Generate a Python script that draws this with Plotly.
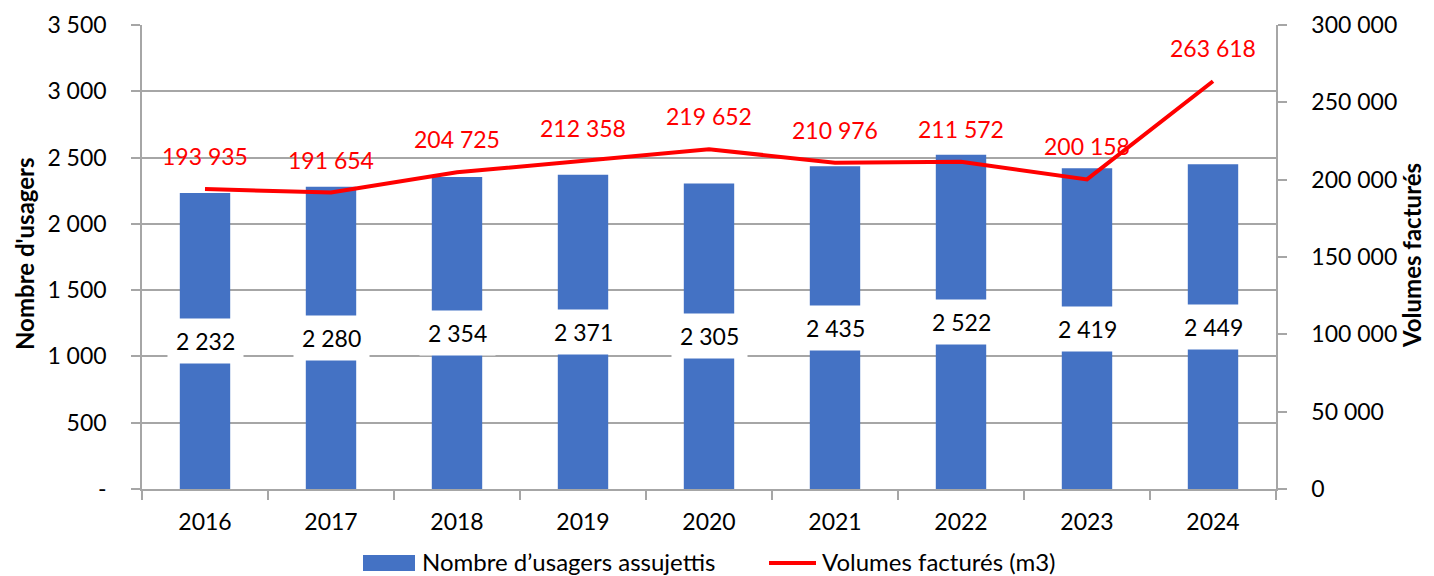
import plotly.graph_objects as go

years = ["2016", "2017", "2018", "2019", "2020", "2021", "2022", "2023", "2024"]
usagers = [2232, 2280, 2354, 2371, 2305, 2435, 2522, 2419, 2449]
volumes = [193935, 191654, 204725, 212358, 219652, 210976, 211572, 200158, 263618]

left_ticks = [0, 500, 1000, 1500, 2000, 2500, 3000, 3500]
left_ticktext = ["-", "500", "1 000", "1 500", "2 000", "2 500", "3 000", "3 500"]
right_ticks = [0, 50000, 100000, 150000, 200000, 250000, 300000]
right_ticktext = ["0", "50 000", "100 000", "150 000", "200 000", "250 000", "300 000"]

bar_name = "Nombre d\u2019usagers assujettis"
line_name = "Volumes factur\u00e9s (m3)"
left_title = "Nombre d'usagers"
right_title = "Volumes factur\u00e9s"

def fmt(v):
    return f"{v:,}".replace(",", " ")

FONT = "Lato, 'Open Sans', sans-serif"
FS = 23
GRID = "#A6A6A6"
BLUE = "#4472C4"
RED = "#FF0000"

# page body has an 8px margin: work in figure pixels (= screen - 8)
OFF = 8
W, H = 1434 - OFF, 576 - OFF
L, R, T, B = 142 - OFF, 1276 - OFF, 25 - OFF, 489 - OFF
def px(xs):
    return (xs - OFF - L) / (R - L)
def py(ys):
    return (B - (ys - OFF)) / (B - T)

fig = go.Figure()
fig.add_trace(go.Bar(
    x=years, y=usagers, name=bar_name,
    marker=dict(color=BLUE, line=dict(width=0)), width=0.4,
    yaxis="y", showlegend=False,
))
fig.add_trace(go.Scatter(
    x=years, y=volumes, name=line_name,
    mode="lines", line=dict(color=RED, width=4), yaxis="y2", showlegend=False,
))

annotations = []
for i, v in enumerate(usagers):
    annotations.append(dict(
        x=i, y=v / 2, xref="x", yref="y", text=fmt(v), showarrow=False,
        font=dict(family=FONT, size=FS, color="black"),
        bgcolor="white", borderpad=8,
    ))
for i, v in enumerate(volumes):
    annotations.append(dict(
        x=i, y=v, xref="x", yref="y2", text=fmt(v), showarrow=False,
        font=dict(family=FONT, size=FS, color=RED),
        yshift=33,
    ))

# axis titles
annotations.append(dict(x=px(24), y=py(254), xref="paper", yref="paper", textangle=-90,
                        text="<b>" + left_title + "</b>", showarrow=False,
                        xanchor="center", yanchor="middle",
                        font=dict(family=FONT, size=24, color="black")))
annotations.append(dict(x=px(1412), y=py(256), xref="paper", yref="paper", textangle=-90,
                        text="<b>" + right_title + "</b>", showarrow=False,
                        xanchor="center", yanchor="middle",
                        font=dict(family=FONT, size=24, color="black")))

# custom legend
annotations.append(dict(x=px(420), y=py(561), xref="paper", yref="paper", xanchor="left",
                        yanchor="middle", text=bar_name, showarrow=False,
                        font=dict(family=FONT, size=24, color="black")))
annotations.append(dict(x=px(820), y=py(561), xref="paper", yref="paper", xanchor="left",
                        yanchor="middle", text=line_name, showarrow=False,
                        font=dict(family=FONT, size=24, color="black")))
shapes = [
    dict(type="rect", xref="paper", yref="paper", x0=px(363), x1=px(415), y0=py(571), y1=py(555),
         fillcolor=BLUE, line=dict(width=0)),
    dict(type="line", xref="paper", yref="paper", x0=px(769), x1=px(816), y0=py(563), y1=py(563),
         line=dict(color=RED, width=4)),
]

fig.update_layout(
    width=W, height=H,
    margin=dict(l=L, r=W - R, t=T, b=H - B, autoexpand=False),
    paper_bgcolor="white", plot_bgcolor="white",
    font=dict(family=FONT, size=FS, color="black"),
    showlegend=False,
    xaxis=dict(
        type="category", range=[-0.5, len(years) - 0.5], showgrid=False,
        showline=True, linecolor=GRID, linewidth=1.5,
        ticks="outside", tickson="boundaries", ticklen=9, tickcolor=GRID, tickwidth=1.5,
        tickfont=dict(size=FS), tickangle=0, ticklabelstandoff=12,
    ),
    yaxis=dict(
        range=[0, 3500], tickvals=left_ticks, ticktext=left_ticktext,
        showgrid=True, gridcolor=GRID, gridwidth=1.5,
        showline=True, linecolor=GRID, linewidth=1.5,
        ticks="outside", ticklen=9, tickcolor=GRID, tickwidth=1.5,
        tickfont=dict(size=FS), zeroline=False, ticklabelstandoff=20,
    ),
    yaxis2=dict(
        range=[0, 300000], tickvals=right_ticks, ticktext=right_ticktext,
        overlaying="y", side="right", showgrid=False,
        showline=True, linecolor=GRID, linewidth=1.5,
        ticks="outside", ticklen=9, tickcolor=GRID, tickwidth=1.5,
        tickfont=dict(size=FS), zeroline=False, ticklabelstandoff=20,
    ),
    annotations=annotations,
    shapes=shapes,
)

fig.write_html("out.html")
